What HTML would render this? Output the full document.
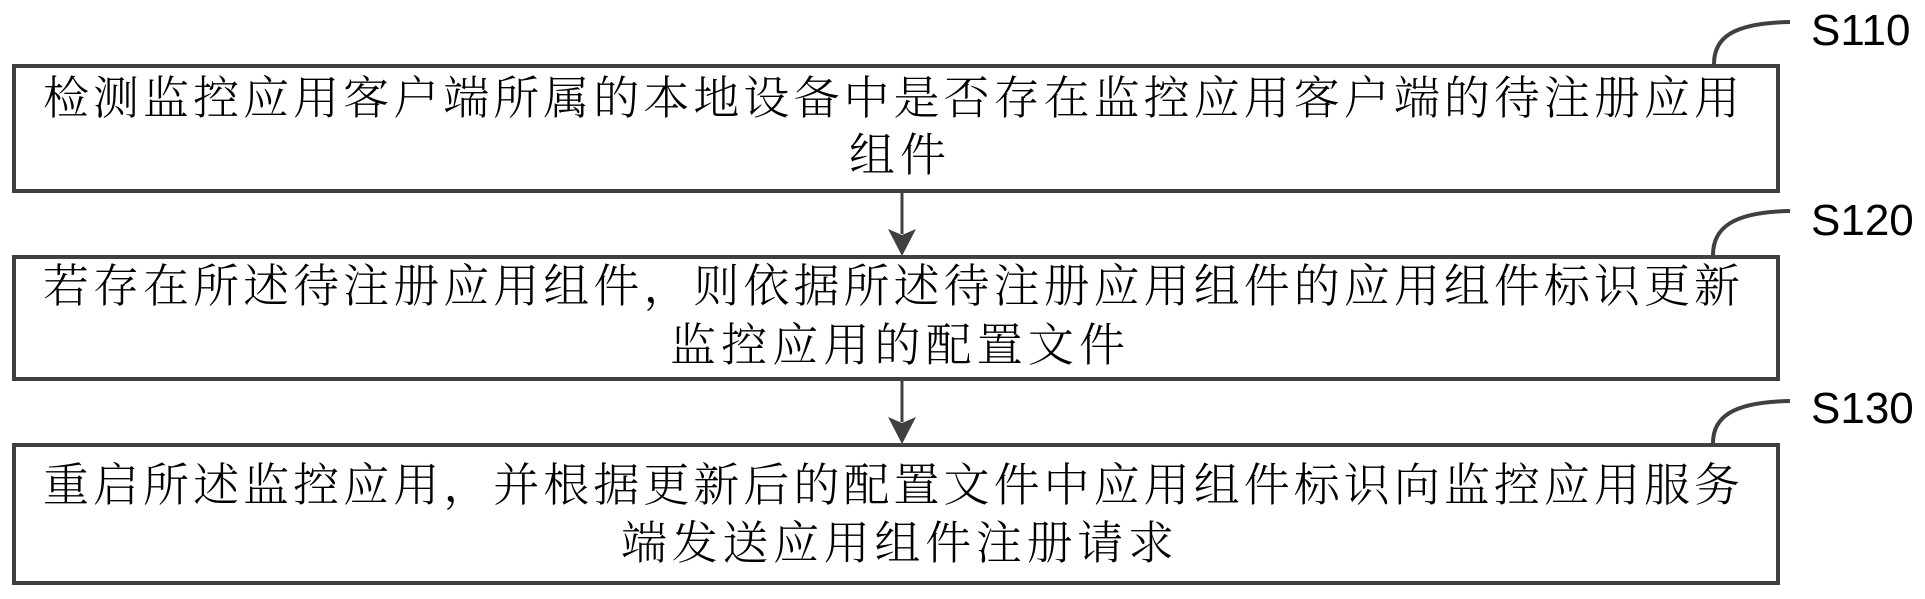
<!DOCTYPE html>
<html>
<head>
<meta charset="utf-8">
<style>
  html,body{margin:0;padding:0;background:#fff;}
  svg{display:block;}
  .cn{font-family:"Liberation Serif","Noto Serif CJK SC","Noto Serif CJK JP","Noto Serif CJK TC","Noto Serif SC","AR PL UKai CN","AR PL UMing CN","Noto Sans CJK SC",serif;font-size:46px;font-weight:300;fill:#000;}
  .lb{font-family:"Liberation Sans",Arial,sans-serif;font-size:44px;fill:#000;}
</style>
</head>
<body>
<svg width="1925" height="599" viewBox="0 0 1925 599" xmlns="http://www.w3.org/2000/svg">
  <rect x="0" y="0" width="1925" height="599" fill="#fff"/>

  <!-- Boxes -->
  <rect x="14" y="66" width="1764" height="125" fill="none" stroke="#404040" stroke-width="4"/>
  <rect x="14" y="257" width="1764" height="122" fill="none" stroke="#404040" stroke-width="4"/>
  <rect x="14" y="445" width="1764" height="138" fill="none" stroke="#404040" stroke-width="4"/>

  <!-- Arrows -->
  <line x1="902" y1="193" x2="902" y2="234" stroke="#404040" stroke-width="3"/>
  <polygon points="888,229 902,235 916,229 902,256" fill="#404040"/>
  <line x1="902" y1="381" x2="902" y2="422" stroke="#404040" stroke-width="3"/>
  <polygon points="888,417 902,423 916,417 902,444" fill="#404040"/>

  <!-- Callout curves -->
  <path d="M1714,64 C1714,38 1732,23 1790,22" fill="none" stroke="#404040" stroke-width="4"/>
  <path d="M1713,255 C1713,229 1731,212 1790,211" fill="none" stroke="#404040" stroke-width="4"/>
  <path d="M1713,443 C1713,418 1731,402 1790,401" fill="none" stroke="#404040" stroke-width="4"/>

  <!-- Labels -->
  <text class="lb" x="1811" y="45">S110</text>
  <text class="lb" x="1811" y="235">S120</text>
  <text class="lb" x="1811" y="423">S130</text>

  <!-- Box 1 text -->
  <text class="cn" x="43" y="114" textLength="1697" lengthAdjust="spacing">检测监控应用客户端所属的本地设备中是否存在监控应用客户端的待注册应用</text>
  <text class="cn" x="849" y="171" textLength="97" lengthAdjust="spacing">组件</text>

  <!-- Box 2 text -->
  <text class="cn" x="43" y="302" textLength="1697" lengthAdjust="spacing">若存在所述待注册应用组件，则依据所述待注册应用组件的应用组件标识更新</text>
  <text class="cn" x="670" y="361" textLength="455" lengthAdjust="spacing">监控应用的配置文件</text>

  <!-- Box 3 text -->
  <text class="cn" x="43" y="501" textLength="1697" lengthAdjust="spacing">重启所述监控应用，并根据更新后的配置文件中应用组件标识向监控应用服务</text>
  <text class="cn" x="621" y="559" textLength="553" lengthAdjust="spacing">端发送应用组件注册请求</text>
</svg>
</body>
</html>
